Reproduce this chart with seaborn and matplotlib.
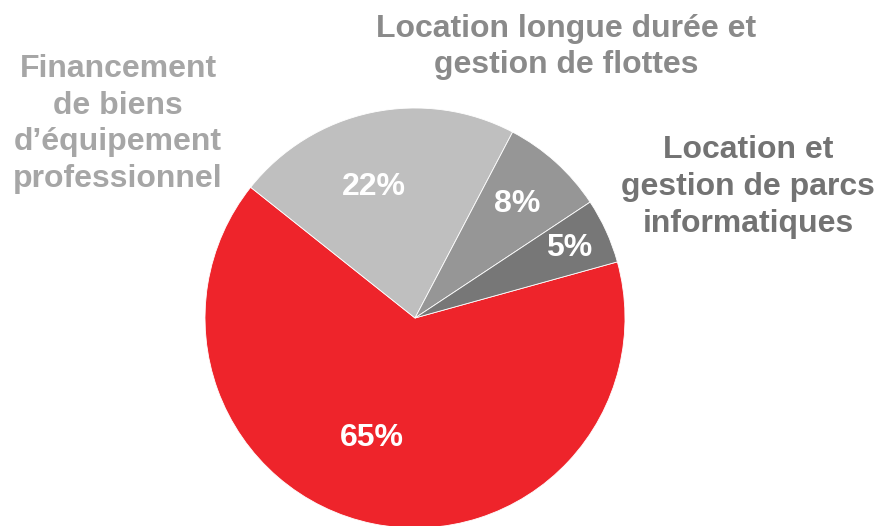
import matplotlib
matplotlib.use("Agg")
import matplotlib.pyplot as plt
import seaborn as sns

# Activity split (the largest share has no outside label)
categories = [
    "Financement\nde biens\nd\u2019équipement\nprofessionnel",
    "Location longue durée et\ngestion de flottes",
    "Location et\ngestion de parcs\ninformatiques",
    "",
]
shares = [22, 8, 5, 65]
slice_colors = ["#BFBFBF", "#969696", "#777777", "#EE242B"]
label_colors = ["#A6A6A6", "#8A8A8A", "#737373", "#FFFFFF"]

sns.set_theme(style="white")
plt.rcParams["font.family"] = ["Liberation Sans", "DejaVu Sans"]

W, H = 881, 526
fig = plt.figure(figsize=(W / 100, H / 100), dpi=100)
ax = fig.add_axes([0, 0, 1, 1])

cx, cy, r = 415, H - 318, 210

order = [3, 0, 1, 2]  # clockwise from the start angle: 65, 22, 8, 5
vals = [shares[i] for i in order]
cols = [slice_colors[i] for i in order]
ax.pie(vals, colors=cols, startangle=15.5, counterclock=False,
       center=(cx, cy), radius=r, frame=True,
       wedgeprops=dict(edgecolor="white", linewidth=0.6))
ax.set_xlim(0, W)
ax.set_ylim(0, H)
ax.set_aspect("equal")
ax.axis("off")

# percentage labels (pixel positions, y from top)
pct_pos = [(374, 187), (517, 204), (569, 248), (372, 438)]
for v, (x, y) in zip(shares, pct_pos):
    ax.text(x, H - y, f"{v}%", ha="center", va="center", color="white",
            fontsize=23, fontweight="bold")

# category labels outside the pie
lab_pos = [(118, 124), (566, 47), (748, 187)]
for txt, (x, y), c in zip(categories[:3], lab_pos, label_colors[:3]):
    ax.text(x, H - y, txt, ha="center", va="center", color=c,
            fontsize=23, fontweight="bold", linespacing=1.3)

fig.savefig("out.png", dpi=100)
